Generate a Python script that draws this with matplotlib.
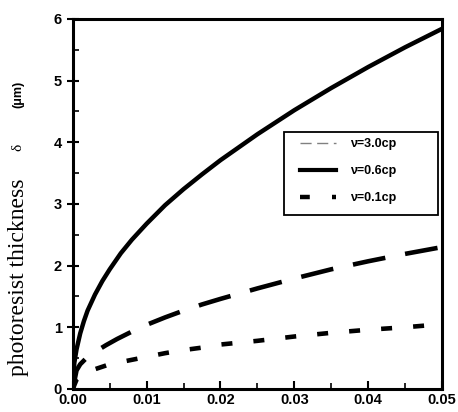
import matplotlib
matplotlib.use("Agg")
import matplotlib.pyplot as plt
from matplotlib.lines import Line2D
from matplotlib.patches import Rectangle
from matplotlib.ticker import MultipleLocator, FormatStrFormatter

# solid curve (top)
x_solid = [0, 0.0002, 0.0005, 0.001, 0.0015, 0.002, 0.003, 0.004, 0.005, 0.0065, 0.008,
           0.01, 0.0125, 0.015, 0.0175, 0.02, 0.025, 0.03, 0.035, 0.04, 0.045, 0.05]
y_solid = [0, 0.42, 0.64, 0.9, 1.1, 1.27, 1.53, 1.75, 1.94, 2.2, 2.42,
           2.68, 2.98, 3.24, 3.48, 3.71, 4.13, 4.52, 4.88, 5.22, 5.54, 5.84]
# long-dashed curve (middle)
x_dash = [0, 0.0005, 0.001, 0.002, 0.003, 0.0045, 0.006, 0.008, 0.01, 0.0125,
          0.015, 0.0175, 0.02, 0.025, 0.03, 0.035, 0.04, 0.045, 0.05]
y_dash = [0, 0.3, 0.4, 0.52, 0.6, 0.71, 0.81, 0.93, 1.04, 1.16,
          1.27, 1.37, 1.46, 1.63, 1.79, 1.94, 2.07, 2.19, 2.3]
# short-dashed curve (bottom)
x_dot = [0, 0.0005, 0.001, 0.0025, 0.005, 0.0075, 0.01, 0.0125, 0.015, 0.0175,
         0.02, 0.025, 0.03, 0.035, 0.04, 0.045, 0.05]
y_dot = [0, 0.15, 0.2, 0.3, 0.4, 0.46, 0.52, 0.58, 0.63, 0.67,
         0.72, 0.78, 0.85, 0.91, 0.96, 1.0, 1.05]

legend_labels = ["ν=3.0cp", "ν=0.6cp", "ν=0.1cp"]

fig = plt.figure(figsize=(4.58, 4.12), dpi=100)
ax = fig.add_axes([0.159, 0.056, 0.806, 0.898])

ax.plot(x_solid, y_solid, color="black", lw=3.2, solid_capstyle="round", solid_joinstyle="round")
ax.plot(x_dash, y_dash, color="black", lw=3.3, dashes=(7.2, 4.4))
ax.plot(x_dot, y_dot, color="black", lw=3.3, dashes=(2.4, 4.6))

ax.set_xlim(0, 0.05)
ax.set_ylim(0, 6)
ax.xaxis.set_major_locator(MultipleLocator(0.01))
ax.xaxis.set_minor_locator(MultipleLocator(0.005))
ax.yaxis.set_major_locator(MultipleLocator(1))
ax.yaxis.set_minor_locator(MultipleLocator(0.5))
ax.xaxis.set_major_formatter(FormatStrFormatter("%.2f"))

for s in ax.spines.values():
    s.set_linewidth(2.2)
ax.tick_params(axis="y", which="major", direction="inout", length=8, width=1.5, pad=4)
ax.tick_params(axis="x", which="major", direction="in", length=6, width=1.5, pad=3)
ax.tick_params(which="minor", direction="in", length=4, width=1.2)
for lab in ax.get_xticklabels() + ax.get_yticklabels():
    lab.set_fontweight("bold")
    lab.set_family("Liberation Sans")
    lab.set_fontsize(10.5)

handles = [
    Line2D([], [], color="gray", lw=1.0, dashes=(8, 4)),
    Line2D([], [], color="black", lw=3.0),
    Line2D([], [], color="black", lw=3.2, dashes=(2.2, 5)),
]
ax.add_patch(Rectangle((0.572, 0.470), 0.417, 0.225, transform=ax.transAxes,
                       fill=False, edgecolor="black", lw=1.3, zorder=5))
leg = ax.legend(handles, legend_labels, loc="upper left", bbox_to_anchor=(0.615, 0.677),
                prop={"family": "Liberation Sans", "weight": "bold", "size": 9},
                frameon=False, borderpad=0, labelspacing=1.2,
                handlelength=2.9, handletextpad=1.1, borderaxespad=0)

fig.text(0.04, 0.328, "photoresist thickness", rotation=90, ha="center", va="center",
         family="Liberation Serif", fontsize=17)
fig.text(0.04, 0.643, "δ", rotation=90, ha="center", va="center",
         family="Liberation Serif", fontsize=11)
fig.text(0.04, 0.77, "(μm)", rotation=90, ha="center", va="center",
         family="Liberation Sans", fontsize=9, fontweight="bold")

fig.savefig("out.png", dpi=100)
